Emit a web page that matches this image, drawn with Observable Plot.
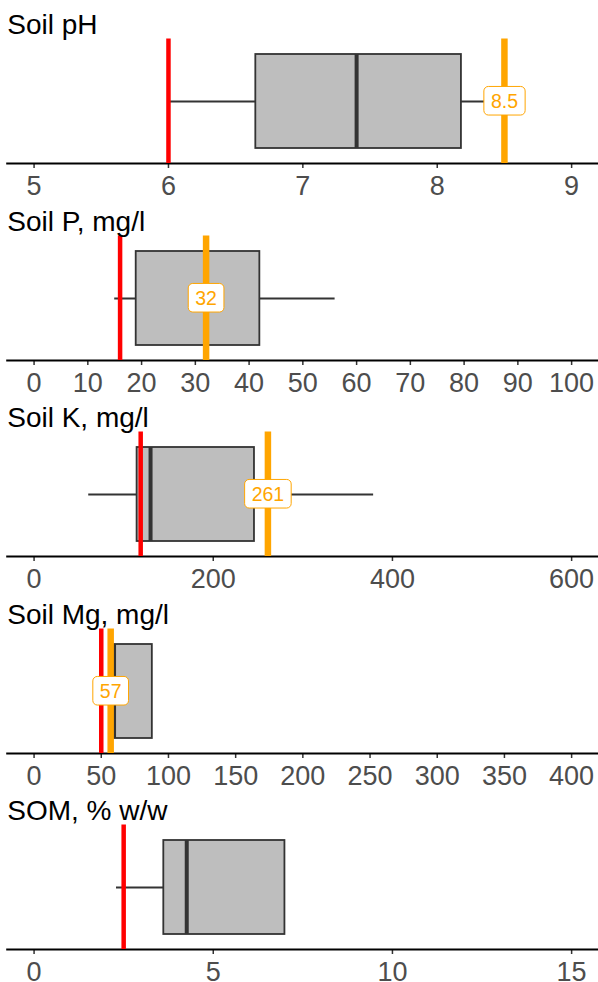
<!DOCTYPE html>
<html>
<head>
<meta charset="utf-8">
<script src="https://cdn.jsdelivr.net/npm/d3@7"></script>
<script src="https://cdn.jsdelivr.net/npm/@observablehq/plot@0.6"></script>
<style>
  body { margin: 0; background: #fff; width: 598px; }
  #chart svg { display: block; overflow: visible; }
</style>
</head>
<body>
<div id="chart"></div>
<script>
// ---- data ----
const titles   = ["Soil pH", "Soil P, mg/l", "Soil K, mg/l", "Soil Mg, mg/l", "SOM, % w/w"];
const lowerW   = [6.0, 15, 61, 50, 2.3];
const q1       = [6.65, 19, 115, 59.3, 3.62];
const medians  = [7.40, 32, 130, 59.5, 4.26];
const q3       = [8.18, 42, 246, 88, 7.0];
const upperW   = [8.45, 56, 379, 88, 7.0];
const minimums = [6.0, 16, 119, 50, 2.5];        // red lines
const optimums = [8.5, 32, 261, 57, null];       // orange lines
const optLabels = ["8.5", "32", "261", "57", null];
const axisMin  = [5, 0, 0, 0, 0];
const axisMax  = [9, 100, 600, 400, 15];
const tickStep = [1, 10, 200, 50, 5];

const panelHeights = [197, 196, 197, 196, 196];
const font = "Liberation Sans, Arial, Helvetica, sans-serif";

const chart = document.getElementById("chart");

titles.forEach((title, i) => {
  const lo = axisMin[i], hi = axisMax[i], pad = (hi - lo) * 0.05;
  const ticks = d3.range(lo, hi + tickStep[i] / 2, tickStep[i]);
  const row = [{
    cat: "box", lower: lowerW[i], q1: q1[i], median: medians[i], q3: q3[i],
    upper: upperW[i], minimum: minimums[i], optimum: optimums[i], label: optLabels[i]
  }];
  const h = panelHeights[i];
  const marks = [
    Plot.axisX({ticks, tickSize: 5, tickPadding: 7, fontSize: 27, fill: "#4D4D4D",
                 stroke: "#333", strokeWidth: 1.5, tickFormat: d => String(d)}),
    Plot.ruleY(row, {x1: "lower", x2: "upper", y: "cat", stroke: "#333", strokeWidth: 2}),
    Plot.barX(row, {x1: "q1", x2: "q3", y: "cat", fill: "#BEBEBE", stroke: "#333",
                    strokeWidth: 1.8, insetTop: 15, insetBottom: 15}),
    Plot.tickX(row, {x: "median", y: "cat", stroke: "#333", strokeWidth: 4,
                     insetTop: 15, insetBottom: 15}),
    Plot.frame({anchor: "bottom", stroke: "#000", strokeWidth: 2}),
    Plot.ruleX(row, {x: "minimum", stroke: "#FF0000", strokeWidth: 4.5})
  ];
  if (optimums[i] != null) {
    marks.push(Plot.ruleX(row, {x: "optimum", stroke: "#FFA500", strokeWidth: 6.5}));
    marks.push(Plot.text(row, {x: "optimum", y: "cat", text: "label", fill: "#FFA500",
                               fontSize: 19.5}));
  }
  marks.push(Plot.text([title], {text: d => d, frameAnchor: "top-left", textAnchor: "start",
                                 lineAnchor: "top", dy: -25, dx: 0, fontSize: 28, fill: "#000"}));

  const svg = Plot.plot({
    width: 598,
    height: h,
    marginLeft: 6.7,
    marginRight: 0,
    marginTop: 38.5,
    marginBottom: h - 163,
    style: {fontFamily: font, background: "#fff", overflow: "visible"},
    x: {domain: [lo - pad, hi + pad], axis: null},
    y: {type: "band", domain: ["box"], padding: 0, axis: null},
    marks
  });
  chart.appendChild(svg);

  // white rounded label boxes behind the optimum labels
  if (optLabels[i] != null) {
    svg.querySelectorAll("text").forEach(t => {
      if (t.textContent !== optLabels[i]) return;
      const g = t.closest("g");
      if (!g || (g.getAttribute("fill") || "").toUpperCase() !== "#FFA500") return;
      const b = t.getBBox();
      const r = document.createElementNS("http://www.w3.org/2000/svg", "rect");
      r.setAttribute("x", b.x - 7);
      r.setAttribute("y", b.y - 3.3);
      r.setAttribute("width", b.width + 14);
      r.setAttribute("height", b.height + 6.6);
      r.setAttribute("rx", 4.5);
      r.setAttribute("fill", "#fff");
      r.setAttribute("stroke", "#FFA500");
      r.setAttribute("stroke-width", 1);
      const tr = t.getAttribute("transform");
      if (tr) r.setAttribute("transform", tr);
      t.parentNode.insertBefore(r, t);
    });
  }
});
</script>
</body>
</html>
